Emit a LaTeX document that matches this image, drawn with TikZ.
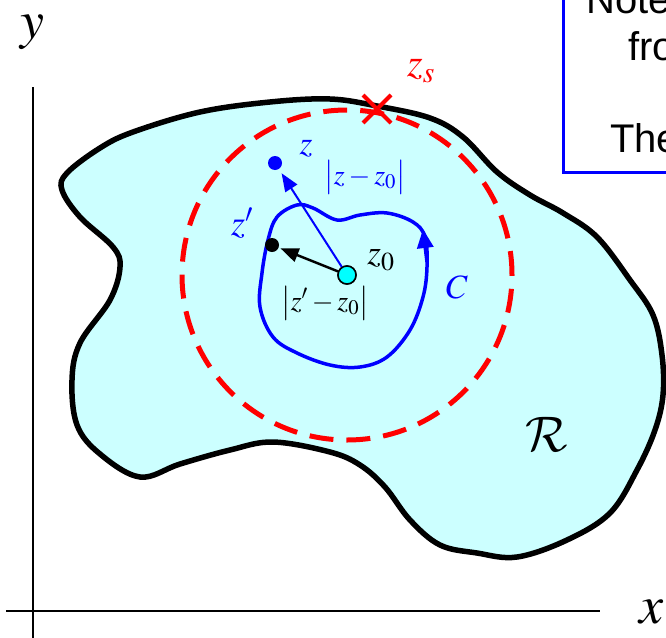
\RequirePackage{fix-cm}
\documentclass[tikz,border=0pt]{standalone}
\usepackage{mathptmx}
\usepackage{fontspec}
\setsansfont{Liberation Sans}
\usetikzlibrary{positioning, arrows.meta, shapes.misc}

\definecolor{regfill}{RGB}{204,255,255}
\definecolor{ptcyan}{RGB}{0,255,255}
\newcommand{\fsz}[1]{\fontsize{#1}{#1}\selectfont}
\newcommand{\calR}{{\usefont{OMS}{cmsy}{m}{n}R}}

\begin{document}
\begin{tikzpicture}[
    x = 1pt, y = -1pt,
    > = {Triangle[length=18pt, width=14pt]},
    dot/.style={circle, fill, inner sep=0pt, minimum size=14pt},
    ctr/.style={circle, draw, fill=ptcyan, line width=1.5pt, inner sep=0pt, minimum size=18pt},
    lbl/.style={inner sep=0pt},
    notetext/.style={inner sep=0pt, anchor=base west, font=\sffamily\fsz{40}}
]
\useasboundingbox (0,0) rectangle (666,637);
\clip (0,0) rectangle (666,637);

% --- axes ---
\draw[line width=2pt] (33,87) -- (33,640);
\draw[line width=2pt] (6,611) -- (600,611);
\node[lbl, font=\fsz{54}] (ylab) at (32,32) {$y$};
\node[lbl, font=\fsz{54}] (xlab) at (652,612) {$x$};

% --- region R ---
\draw[line width=5.5pt, fill=regfill] plot[smooth cycle, tension=0.6] coordinates {
    (200,112) (270,102) (330,99) (377,106) (430,118) (463,137) (497,172)
    (530,195) (563,213) (597,237) (630,280) (653,315) (662,355) (663,395)
    (655,430) (637,470) (610,513) (567,540) (517,557) (477,553) (440,545)
    (410,520) (385,487) (360,465) (330,452) (273,442) (230,450) (180,464)
    (140,477) (100,454) (77,425) (72,380) (80,343) (110,300) (120,267)
    (113,247) (80,217) (62,190) (67,173) (100,148) (133,132)};
\node[lbl, font=\fsz{50}] (rlab) at (547,434) {\calR};

% --- circle of convergence ---
\node[ctr] (z0) at (347,275) {};
\draw[red, line width=5pt, dash pattern=on 24pt off 13pt] (z0.center) circle[radius=165pt];

% --- contour C ---
\draw[blue, line width=3.5pt] plot[smooth cycle, tension=0.6] coordinates {
    (427,267) (425,237) (413,222) (387,213) (360,215) (337,220) (313,208)
    (297,205) (277,217) (268,240) (262,273) (260,307) (273,337) (297,353)
    (330,365) (360,367) (387,357) (410,330) (423,297)};
\coordinate (ca) at (427,262);
\coordinate (cb) at (423,229);
\draw[blue, line width=3.5pt, -{Triangle[length=19pt, width=16pt]}] (ca) -- (cb);
\node[lbl, text=blue, font=\fsz{34}] (clab) at (457,287) {$C$};

% --- points z and z' ---
\node[dot, blue] (zz) at (275,163) {};
\node[dot, black] (zp) at (272,245) {};
\node[ctr] at (z0) {};
\draw[->, blue, line width=2pt, shorten >=5pt] (z0) -- (zz);
\draw[->, black, line width=2.5pt, shorten >=2pt] (z0) -- (zp);

\node[lbl, text=blue, font=\fsz{33}] (zlab) at (306,149) {$z$};
\node[lbl, text=blue, font=\fsz{28}] (dz) at (365,177) {$\bigl|z-z_0\bigr|$};
\node[lbl, text=blue, font=\fsz{36}] (zplab) at (242,223) {$z'$};
\node[lbl, font=\fsz{35}] (z0lab) at (381,260) {$z_0$};
\node[lbl, font=\fsz{28}] (dzp) at (325,303) {$\bigl|z'-z_0\bigr|$};

% --- singular point ---
\node[cross out, draw=red, line width=4pt, minimum size=24pt, inner sep=0pt] (sing) at (377,109) {};
\node[lbl, text=red, font=\fsz{40}] (zslab) at (421,71) {$z_s$};

% --- note box ---
\draw[blue, line width=3pt] (563,-20) rectangle (700,172);
\node[notetext] (n1) at (586,13) {Note};
\node[notetext] (n2) at (628,60) {fro};
\node[notetext] (n3) at (610,152) {The};

\end{tikzpicture}
\end{document}
